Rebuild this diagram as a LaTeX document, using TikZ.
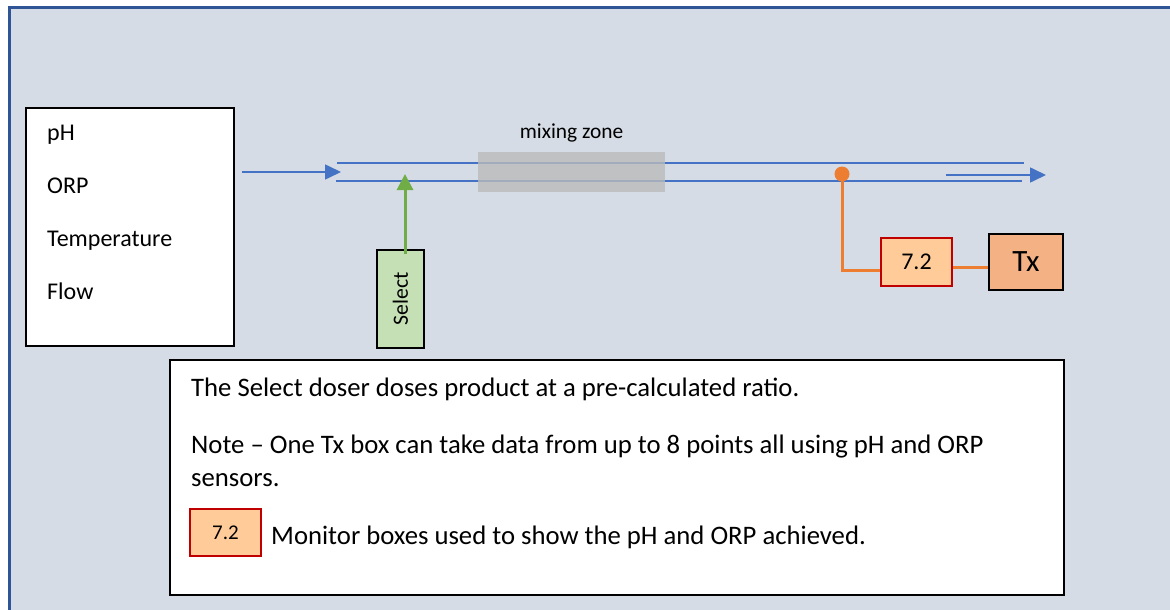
\documentclass[tikz,border=0pt]{standalone}
\usepackage{fontspec}
\setmainfont{Carlito}
\usetikzlibrary{arrows.meta,positioning}
\definecolor{pipeblue}{HTML}{4472C4}
\definecolor{frameblue}{HTML}{2F5597}
\definecolor{panel}{HTML}{D6DCE5}
\definecolor{dosegreen}{HTML}{70AD47}
\definecolor{selectfill}{HTML}{C5E0B4}
\definecolor{tapcolor}{HTML}{ED7D31}
\definecolor{monfill}{HTML}{FFCC99}
\definecolor{monred}{HTML}{C00000}
\definecolor{txfill}{HTML}{F4B183}
\definecolor{mixgrey}{HTML}{BBBBBB}

\begin{document}
\begin{tikzpicture}[x=1pt,y=-1pt,
        every node/.style={inner sep=0pt},
        box/.style={draw=black,line width=2pt,fill=white},
        monitor/.style={draw=monred,line width=1.8pt,fill=monfill,
            minimum width=71pt,minimum height=48pt},
        pipe/.style={pipeblue,line width=1.6pt},
        flow/.style={pipeblue,line width=1.6pt,-{Triangle[length=16pt,width=15pt]}},
        wire/.style={tapcolor,line width=3pt}]
        \useasboundingbox (0,0) rectangle (1170,610);
        \fill[white] (0,0) rectangle (1170,610);
        \draw[frameblue,line width=3pt,fill=panel] (9,8) rectangle (1200,640);
        % sensor list
        \node[box,minimum width=208pt,minimum height=238pt,anchor=north west] (params) at (25,107) {};
        \foreach \y/\l in {140/pH,193/ORP,246/Temperature,299/Flow} {
            \node[anchor=base west,font=\fontsize{24}{28}\selectfont] at (47,\y) {\l};
        }
        % pipe and mixing zone
        \draw[pipe] (337,163) -- (1024,163);
        \draw[pipe] (336,181) -- (1022,181);
        \node[fill=mixgrey,fill opacity=0.8,minimum width=187pt,minimum height=40pt] (mix) at (571.5,172) {};
        \node[above=9pt of mix,font=\fontsize{21.4}{24}\selectfont] (mixlabel) {mixing zone};
        \coordinate (in) at (242,172);
        \coordinate (pipein) at (341,172);
        \coordinate (pipeout) at (946,175);
        \coordinate (out) at (1046,175);
        \draw[flow] (in) -- (pipein);
        \draw[flow] (pipeout) -- (out);
        % doser
        \node[draw=black,line width=2pt,fill=selectfill,rotate=90,minimum width=98pt,minimum height=47pt,
            font=\fontsize{21.7}{24}\selectfont] (select) at (400.5,299) {Select};
        \coordinate (dose) at (405,174);
        \draw[dosegreen,line width=3pt,-{Triangle[length=16pt,width=16pt]}] ([xshift=4.5pt,yshift=-5pt]select.east) -- (dose);
        % monitor and transmitter
        \node[circle,fill=tapcolor,minimum size=15pt] (tap) at (842,174) {};
        \node[monitor,font=\fontsize{24}{28}\selectfont] (mon) at (916.5,262) {7.2};
        \node[draw=black,line width=2pt,fill=txfill,minimum width=74pt,minimum height=56pt,
            font=\fontsize{31}{34}\selectfont] (tx) at (1026,262) {Tx};
        \draw[wire] (tap.center) |- ([yshift=-8pt]mon.west);
        \draw[wire] ([yshift=-5pt]mon.east) -- ([yshift=-5pt]mon.east -| tx.west);
        % notes
        \node[box,minimum width=894pt,minimum height=235pt] (note) at (617,477.5) {};
        \scope[every node/.style={anchor=base west,inner sep=0pt,font=\fontsize{26.7}{30}\selectfont}]
            \node (ratio) at (191,396) {The Select doser doses product at a pre-calculated ratio.};
            \node (points) at (191,453) {Note – One Tx box can take data from up to 8 points all using pH and ORP};
            \node (sensors) at (191,486) {sensors.};
            \node (legendtext) at (271,544) {Monitor boxes used to show the pH and ORP achieved.};
        \endscope
        \node[monitor,minimum height=47pt,font=\fontsize{21}{26}\selectfont] (legend) at (225.5,532.5) {7.2};
\end{tikzpicture}
\end{document}
